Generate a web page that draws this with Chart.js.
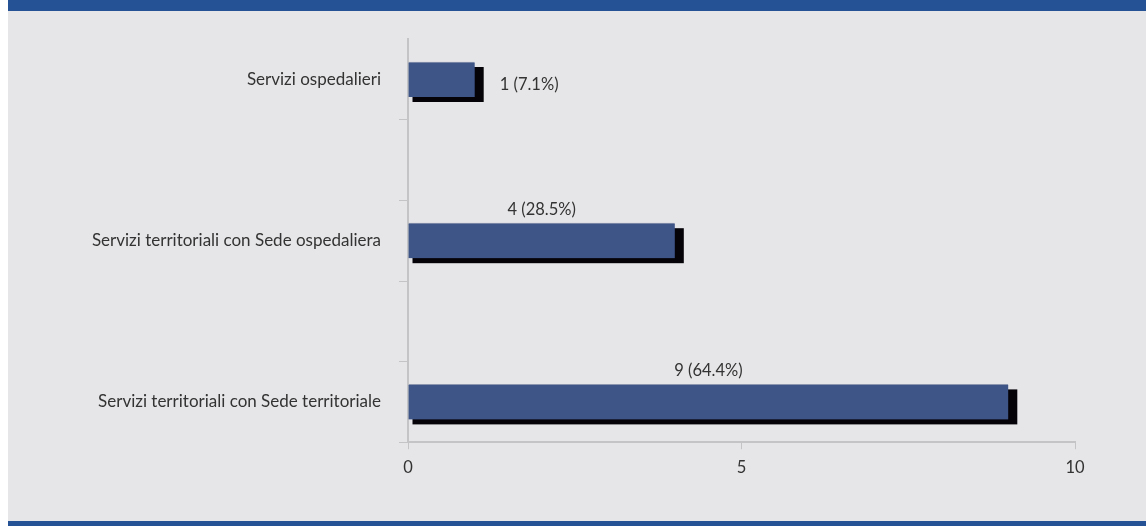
<!DOCTYPE html>
<html>
<head>
<meta charset="utf-8">
<script src="https://cdn.jsdelivr.net/npm/chart.js@4/dist/chart.umd.min.js"></script>
<style>
    body { margin: 0; background: #ffffff; }
    #frame { position: absolute; left: 8px; top: 0; width: 1138px; height: 526px; }
    #topband { height: 11px; background: #245294; }
    #panel { height: 510px; background: #e6e6e8; position: relative; }
    #bottomband { height: 5px; background: #245294; }
</style>
</head>
<body>
<div id="frame">
    <div id="topband"></div>
    <div id="panel"><canvas id="chart" width="1138" height="510"></canvas></div>
    <div id="bottomband"></div>
</div>
<script>
// Categories (empty slots keep the spacing of the original axis ticks)
const categories = ['Servizi ospedalieri', '', 'Servizi territoriali con Sede ospedaliera', '', 'Servizi territoriali con Sede territoriale'];
const counts = [1, null, 4, null, 9];
const shares = ['7.1%', '', '28.5%', '', '64.4%'];
const xTicks = [0, 5, 10];

const FONT = 'Lato, "Open Sans", sans-serif';
const TEXT = '#333333';

// Black block behind each bar, like the old 3D shadow
const barShadow = {
    id: 'barShadow',
    beforeDatasetsDraw(chart) {
        const ctx = chart.ctx;
        const meta = chart.getDatasetMeta(0);
        ctx.save();
        ctx.fillStyle = '#050308';
        ctx.filter = 'blur(0.6px)';
        meta.data.forEach((bar, i) => {
            if (counts[i] === null) return;
            const top = bar.y - bar.height / 2;
            ctx.fillRect(bar.base + 4, top + 5, bar.x - bar.base + 5, bar.height);
        });
        ctx.restore();
    }
};

// Value labels: beside short bars, above long ones
const valueLabels = {
    id: 'valueLabels',
    afterDraw(chart) {
        const ctx = chart.ctx;
        const meta = chart.getDatasetMeta(0);
        ctx.save();
        ctx.font = '16.5px ' + FONT;
        ctx.fillStyle = TEXT;
        ctx.textBaseline = 'middle';
        meta.data.forEach((bar, i) => {
            const v = counts[i];
            if (v === null) return;
            const text = v + ' (' + shares[i] + ')';
            if (v < 2) {
                ctx.textAlign = 'left';
                ctx.fillText(text, bar.x + 25, bar.y + 5);
            } else {
                ctx.textAlign = 'center';
                ctx.fillText(text, (bar.base + bar.x) / 2, bar.y - bar.height / 2 - 14);
            }
        });
        ctx.restore();
    }
};

new Chart(document.getElementById('chart'), {
    type: 'bar',
    data: {
        labels: categories,
        datasets: [{
            data: counts,
            backgroundColor: '#3e5588',
            borderColor: '#8c96ae',
            borderWidth: { top: 1, bottom: 0, left: 0, right: 0 },
            borderSkipped: false,
            barThickness: 35
        }]
    },
    options: {
        indexAxis: 'y',
        responsive: false,
        animation: false,
        layout: { padding: { left: 0, right: 71, top: 26, bottom: 34 } },
        plugins: { legend: { display: false }, tooltip: { enabled: false } },
        scales: {
            x: {
                min: 0,
                max: 10,
                afterBuildTicks: (scale) => { scale.ticks = xTicks.map(v => ({ value: v })); },
                grid: { drawOnChartArea: false, tickLength: 7, color: '#c4c4c6', lineWidth: 1 },
                border: { color: '#c4c4c6', width: 2 },
                ticks: { color: TEXT, font: { family: FONT, size: 16.5 }, padding: 9 }
            },
            y: {
                offset: true,
                afterFit: (scale) => { scale.width = 400; },
                grid: {
                    offset: true,
                    drawOnChartArea: false,
                    tickLength: 9,
                    color: (c) => c.index === 0 ? 'rgba(0,0,0,0)' : '#c4c4c6'
                },
                border: { color: '#c4c4c6', width: 2 },
                ticks: { color: TEXT, font: { family: FONT, size: 17 }, padding: 18 }
            }
        }
    },
    plugins: [barShadow, valueLabels]
});
</script>
</body>
</html>
